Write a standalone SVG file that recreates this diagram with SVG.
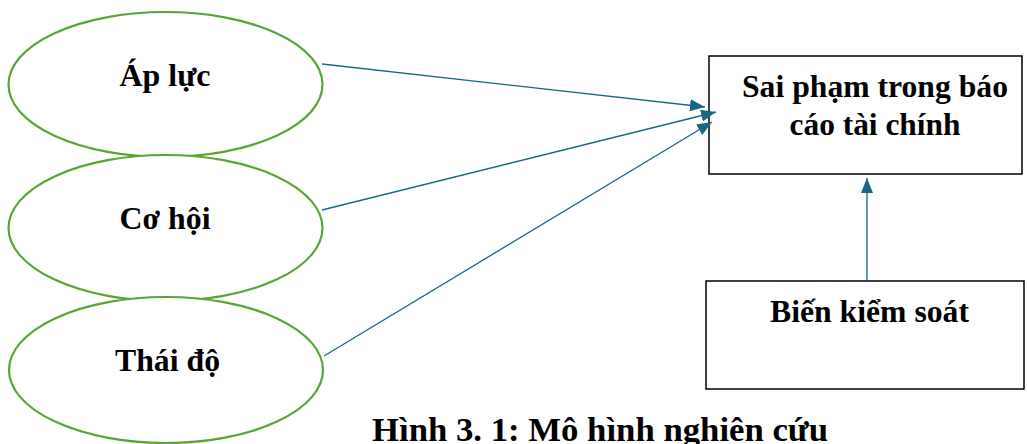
<svg xmlns="http://www.w3.org/2000/svg" width="1027" height="444" viewBox="0 0 1027 444">
<style>
.ell{fill:#fff;stroke:#58a535;stroke-width:2.2}
.box{fill:#fff;stroke:#000;stroke-width:1.5}
.t{font-family:"Liberation Serif","Times New Roman",serif;font-weight:bold;font-size:32px;fill:#000;text-anchor:middle}
.cap{font-size:34px}
.con{stroke:#1b6586;stroke-width:1.3;fill:none}
</style>
<defs>
<marker id="ah" markerUnits="userSpaceOnUse" markerWidth="16" markerHeight="12" refX="15" refY="6" orient="auto">
<path d="M0,0 L15,6 L0,12 Z" fill="#1b6586"/>
</marker>
</defs>
<g id="node-apluc">
<ellipse class="ell" cx="165.5" cy="84.5" rx="157" ry="72.5"/>
<text class="t" x="165" y="86" textLength="91" lengthAdjust="spacingAndGlyphs">Áp lực</text>
</g>
<g id="node-cohoi">
<ellipse class="ell" cx="165.5" cy="228" rx="157" ry="73"/>
<text class="t" x="165" y="228.5" textLength="91" lengthAdjust="spacingAndGlyphs">Cơ hội</text>
</g>
<g id="node-thaido">
<ellipse class="ell" cx="166" cy="370" rx="157" ry="73"/>
<text class="t" x="167.5" y="370.5" textLength="105" lengthAdjust="spacingAndGlyphs">Thái độ</text>
</g>
<g id="node-saipham">
<rect class="box" x="709" y="56" width="313" height="118"/>
<text class="t" x="875" y="97" textLength="266" lengthAdjust="spacingAndGlyphs">Sai phạm trong báo</text>
<text class="t" x="875" y="135" textLength="171" lengthAdjust="spacingAndGlyphs">cáo tài chính</text>
</g>
<g id="node-bienkiemsoat">
<rect class="box" x="706" y="281" width="318" height="108"/>
<text class="t" x="869.5" y="322" textLength="199" lengthAdjust="spacingAndGlyphs">Biến kiểm soát</text>
</g>
<g id="connectors">
<line class="con" x1="322" y1="64" x2="705" y2="107" marker-end="url(#ah)"/>
<line class="con" x1="322" y1="210" x2="716" y2="112" marker-end="url(#ah)"/>
<line class="con" x1="324" y1="356" x2="712" y2="122" marker-end="url(#ah)"/>
<line class="con" x1="867" y1="281" x2="867" y2="178" marker-end="url(#ah)"/>
</g>
<g id="caption">
<text class="t cap" x="600" y="441" textLength="456" lengthAdjust="spacingAndGlyphs">Hình 3. 1: Mô hình nghiên cứu</text>
</g>
</svg>
